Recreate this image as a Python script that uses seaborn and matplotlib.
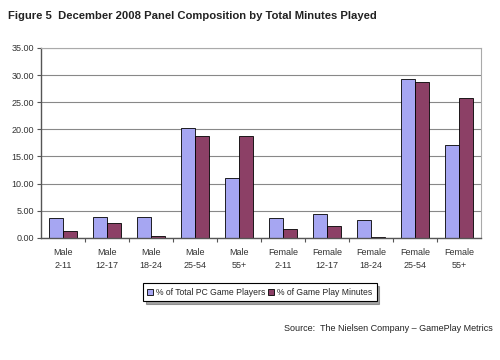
import pandas as pd
import seaborn as sns
import matplotlib.pyplot as plt

# Panel composition values (percent)
groups = ['Male\n2-11', 'Male\n12-17', 'Male\n18-24', 'Male\n25-54', 'Male\n55+',
          'Female\n2-11', 'Female\n12-17', 'Female\n18-24', 'Female\n25-54', 'Female\n55+']
players = [3.7, 3.9, 3.9, 20.3, 11.1, 3.6, 4.4, 3.3, 29.3, 17.2]
minutes = [1.2, 2.8, 0.4, 18.7, 18.7, 1.7, 2.2, 0.25, 28.8, 25.7]
series = ['% of Total PC Game Players', '% of Game Play Minutes']

df = pd.DataFrame({
    'group': groups * 2,
    'value': players + minutes,
    'series': [series[0]] * len(groups) + [series[1]] * len(groups),
})

sns.set_style('white')
plt.rcParams['font.family'] = ['Liberation Sans', 'DejaVu Sans']

fig = plt.figure(figsize=(5, 3.6), dpi=100)
ax = fig.add_axes([0.082, 0.339, 0.880, 0.528])

sns.barplot(data=df, x='group', y='value', hue='series', order=groups,
            palette=['#9999FF', '#993366'], edgecolor='black', linewidth=0.6,
            width=0.62, gap=0, ax=ax)

ax.set_ylim(0, 35)
ax.set_yticks(range(0, 36, 5))
ax.set_yticklabels([f'{v:.2f}' for v in range(0, 36, 5)], fontsize=6.5, color='#333333')
ax.set_xlim(-0.5, len(groups) - 0.5)
ax.set_xticks(range(len(groups)))
ax.set_xticklabels(groups, fontsize=6.5, color='#333333', linespacing=1.6)
ax.tick_params(axis='x', length=0, pad=7)
ax.tick_params(axis='y', length=3, width=0.8, color='#555555', left=True, pad=2)
# small ticks between categories
ax.set_xticks([i + 0.5 for i in range(len(groups) - 1)], minor=True)
ax.tick_params(axis='x', which='minor', length=3, width=0.8, color='#555555', bottom=True)

ax.yaxis.grid(True, color='#888888', linewidth=0.8)
ax.set_axisbelow(True)
ax.set_xlabel('')
ax.set_ylabel('')
for side in ['left', 'bottom']:
    ax.spines[side].set_color('#555555')
    ax.spines[side].set_linewidth(1.0)
for side in ['top', 'right']:
    ax.spines[side].set_visible(True)
    ax.spines[side].set_color('#aaaaaa')
    ax.spines[side].set_linewidth(0.8)

leg = ax.legend(loc='center', bbox_to_anchor=(0.497, -0.285), ncol=2, fontsize=6.2,
                frameon=True, fancybox=False, shadow=True, handlelength=0.7,
                handleheight=0.7, handletextpad=0.3, columnspacing=0.4,
                borderpad=0.5, edgecolor='black')
leg.get_frame().set_linewidth(0.8)

fig.text(0.016, 0.955, 'Figure 5  December 2008 Panel Composition by Total Minutes Played',
         fontsize=8.1, fontweight='bold', va='center', ha='left', color='#222222')
fig.text(0.985, 0.088, 'Source:  The Nielsen Company \u2013 GamePlay Metrics',
         fontsize=6.5, ha='right', va='center', color='#222222')

fig.savefig('out.png', dpi=100)
